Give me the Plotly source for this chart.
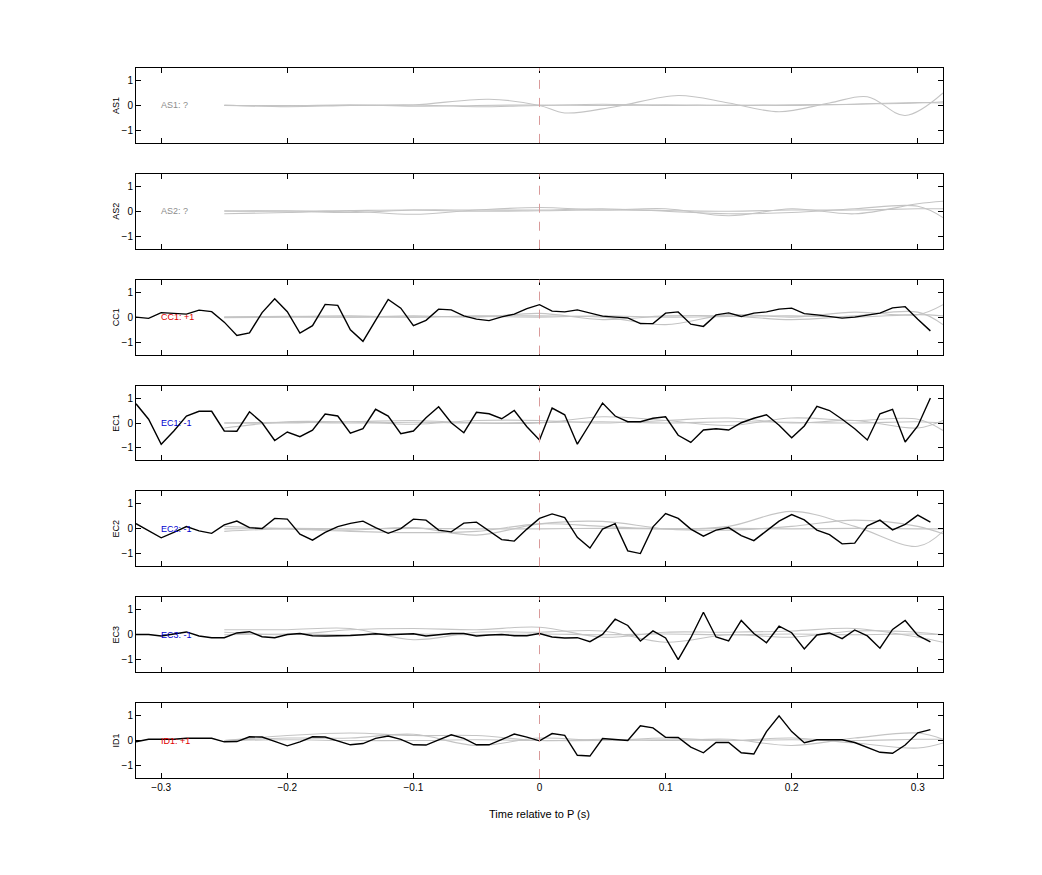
import numpy as np
import plotly.graph_objs as go
from plotly.subplots import make_subplots

# Time axis of the sampled (black) traces, 10 ms steps
time = [round(-0.32 + 0.01 * k, 2) for k in range(64)]

cc1 = [0, -0.05, 0.18, 0.15, 0.12, 0.28, 0.22, -0.2, -0.73, -0.63, 0.18, 0.74, 0.22, -0.64, -0.34, 0.51,
       0.47, -0.51, -0.97, -0.13, 0.71, 0.36, -0.34, -0.13, 0.32, 0.29, 0.05, -0.08, -0.14, 0.01, 0.12, 0.34,
       0.5, 0.24, 0.21, 0.29, 0.18, 0.04, 0, -0.03, -0.26, -0.26, 0.16, 0.21, -0.28, -0.37, 0.09, 0.17,
       0.03, 0.16, 0.21, 0.32, 0.36, 0.14, 0.09, 0.03, -0.04, 0, 0.08, 0.16, 0.37, 0.42, -0.08, -0.55]
ec1 = [0.77, 0.15, -0.85, -0.32, 0.28, 0.47, 0.47, -0.32, -0.33, 0.45, 0.01, -0.7, -0.36, -0.55, -0.29, 0.36,
       0.28, -0.41, -0.23, 0.55, 0.28, -0.43, -0.32, 0.21, 0.65, 0.01, -0.39, 0.43, 0.37, 0.17, 0.5, -0.15,
       -0.68, 0.6, 0.33, -0.85, -0.03, 0.8, 0.28, 0.05, 0.05, 0.19, 0.25, -0.49, -0.78, -0.28, -0.23, -0.28,
       0.01, 0.19, 0.33, -0.09, -0.59, -0.12, 0.67, 0.5, 0.15, -0.23, -0.68, 0.37, 0.55, -0.76, -0.12, 1.0]
ec2 = [0.21, -0.08, -0.36, -0.14, 0.09, -0.08, -0.18, 0.16, 0.31, 0.05, 0.01, 0.42, 0.39, -0.21, -0.45, -0.14,
       0.09, 0.22, 0.31, 0.05, -0.18, 0.01, 0.39, 0.35, -0.05, -0.12, 0.23, 0.27, -0.08, -0.43, -0.49, -0.01,
       0.42, 0.6, 0.45, -0.34, -0.77, -0.01, 0.21, -0.88, -0.99, 0.08, 0.61, 0.42, -0.01, -0.29, -0.05, 0.05,
       -0.27, -0.47, -0.08, 0.31, 0.57, 0.36, -0.05, -0.23, -0.6, -0.57, 0.12, 0.35, -0.04, 0.18, 0.55, 0.27]
ec3 = [0.01, 0.01, -0.05, 0.04, 0.11, -0.05, -0.12, -0.12, 0.07, 0.12, -0.08, -0.12, 0.01, 0.05, -0.04, -0.05,
       -0.05, -0.03, 0, 0.04, 0, 0.01, 0.04, -0.05, 0, 0.05, 0.05, -0.05, -0.01, 0.01, -0.04, -0.04,
       0.05, -0.09, -0.13, -0.12, -0.28, 0.01, 0.62, 0.37, -0.25, 0.15, -0.13, -1.0, -0.12, 0.9, -0.09, -0.25,
       0.57, 0.05, -0.32, 0.34, 0.08, -0.57, -0.01, 0.07, -0.16, 0.19, -0.05, -0.54, 0.21, 0.57, -0.03, -0.29]
id1 = [-0.05, 0.05, 0.05, 0.05, 0.09, 0.09, 0.09, -0.05, -0.04, 0.15, 0.14, -0.03, -0.21, -0.05, 0.15, 0.14,
       -0.01, -0.17, -0.12, 0.09, 0.18, 0.05, -0.17, -0.18, 0.03, 0.23, 0.09, -0.17, -0.17, 0.05, 0.26, 0.14,
       -0.01, 0.28, 0.21, -0.59, -0.62, 0.08, 0.03, 0, 0.59, 0.51, 0.13, 0.12, -0.26, -0.49, -0.08, -0.08,
       -0.49, -0.54, 0.36, 0.99, 0.36, -0.09, 0.03, 0.04, 0.03, -0.08, -0.27, -0.47, -0.51, -0.18, 0.31, 0.44]

# Grey (smoothed) traces, read at coarse knots
grey_x = [-0.25, -0.2, -0.15, -0.1, -0.05, 0, 0.05, 0.1, 0.15, 0.2, 0.25, 0.3, 0.32]
as1_x = [-0.25, -0.2, -0.15, -0.1, -0.04, 0, 0.02, 0.06, 0.11, 0.15, 0.19, 0.23, 0.26, 0.29, 0.32]
as1_a = [0, 0, 0, 0.02, 0.25, 0, -0.3, -0.05, 0.4, 0.1, -0.25, 0.1, 0.35, -0.4, 0.5]
grey = {
    'AS1': [[0.02, -0.05, 0.0, 0.02, -0.05, 0, 0.05, 0, 0.02, 0, 0.05, 0.1, 0.15],
            [0, -0.02, 0.03, -0.03, 0, 0.02, 0, 0.03, 0, 0.03, 0.05, 0.12, 0.1]],
    'AS2': [[-0.1, -0.05, 0.0, -0.12, 0.05, 0.15, 0.05, 0.1, -0.18, 0.1, -0.1, 0.3, 0.4],
            [0, 0.02, -0.05, 0.05, 0.05, 0.05, 0.1, 0, -0.1, -0.05, 0.1, 0.2, -0.25],
            [0.02, 0, 0.03, 0.05, 0, 0.02, 0.05, 0.03, 0, 0.05, 0.05, 0.1, 0.1]],
    'CC1': [[0, 0.02, 0.05, 0.0, 0.05, 0.05, 0, -0.3, 0.1, 0, 0.2, 0.1, 0.5],
            [-0.02, 0, 0, 0.05, 0, 0.15, -0.1, 0.05, 0.05, -0.1, 0.05, 0.2, -0.3],
            [0, 0.03, 0, 0, 0.03, 0, 0.05, 0, 0.03, 0.05, 0, 0.1, 0.05]],
    'EC1': [[-0.2, 0.05, 0.05, 0.1, 0, 0, 0.25, 0.1, -0.1, 0.2, 0.1, 0.15, -0.3],
            [0, 0, 0.05, -0.05, 0.1, 0.1, 0, 0.1, 0.2, 0, 0.1, -0.2, 0.1],
            [0, 0.03, 0, 0.03, 0, 0.02, 0.05, 0, 0.05, 0.03, 0, 0.05, 0]],
    'EC2': [[0.1, 0, -0.1, -0.15, -0.1, 0.2, 0.1, 0, 0.1, 0.7, 0.1, -0.7, -0.1],
            [-0.1, 0, -0.05, 0.05, -0.25, 0.2, 0.3, 0, -0.05, 0.1, 0.35, 0.1, -0.2],
            [0, 0.02, 0, 0.02, 0, 0, 0.02, 0, 0.02, 0, 0.02, 0, 0]],
    'EC3': [[0.2, 0.2, 0.25, -0.2, 0.1, 0.1, 0.15, -0.3, 0, -0.1, 0.15, 0.1, 0],
            [0.1, 0, 0.2, 0.25, 0.2, 0.3, -0.1, 0.1, 0.1, 0.15, 0.25, -0.1, -0.3],
            [0, 0.03, 0, 0.03, 0, 0.03, 0, 0.03, 0, 0.03, 0, 0.03, 0]],
    'ID1': [[0, 0.2, 0.3, 0.2, 0.2, 0.0, 0.05, 0, 0.05, -0.2, 0.1, 0.3, 0.05],
            [0, 0.1, 0.1, 0.25, -0.2, 0.1, 0, 0.1, 0, 0.1, -0.1, -0.3, -0.1],
            [0, 0.03, 0, 0, 0.03, 0, 0, 0.03, 0, 0.03, 0, 0.05, 0.05]],
}

channels = ['AS1', 'AS2', 'CC1', 'EC1', 'EC2', 'EC3', 'ID1']
black = {'CC1': cc1, 'EC1': ec1, 'EC2': ec2, 'EC3': ec3, 'ID1': id1}
labels = ['AS1: ?', 'AS2: ?', 'CC1: +1', 'EC1: -1', 'EC2: -1', 'EC3: -1', 'ID1: +1']
label_colors = ['#8c8c8c', '#8c8c8c', '#e00000', '#0000d0', '#0000d0', '#0000d0', '#e00000']

fig = make_subplots(rows=7, cols=1, vertical_spacing=0.0436, shared_xaxes=False)

for i, ch in enumerate(channels):
    row = i + 1
    if ch == 'AS1':
        fig.add_trace(go.Scatter(x=as1_x, y=as1_a, mode='lines', line_shape='spline',
                                 line=dict(color='#c4c4c4', width=1.1)), row=row, col=1)
    for g in grey[ch]:
        fig.add_trace(go.Scatter(x=grey_x, y=g, mode='lines', line_shape='spline',
                                 line=dict(color='#c4c4c4', width=1.1)), row=row, col=1)
    if ch in black:
        fig.add_trace(go.Scatter(x=time, y=black[ch], mode='lines',
                                 line=dict(color='black', width=1.4)), row=row, col=1)
    fig.add_vline(x=0, line=dict(color='#d99a9a', width=1, dash='dash'), row=row, col=1)
    fig.add_annotation(x=-0.302, y=0, text=labels[i], showarrow=False, xanchor='left',
                       font=dict(size=9, color=label_colors[i]), row=row, col=1)
    fig.update_yaxes(range=[-1.5, 1.5], tickvals=[-1, 0, 1], title_text=ch,
                     title_font=dict(size=9), title_standoff=0, row=row, col=1)
    fig.update_xaxes(range=[-0.32, 0.32], tickvals=[-0.3, -0.2, -0.1, 0, 0.1, 0.2, 0.3],
                     showticklabels=(row == 7), row=row, col=1)

fig.update_xaxes(ticks='inside', ticklen=5, tickcolor='black', showline=True, linecolor='black',
                 linewidth=1, mirror='ticks', showgrid=False, zeroline=False, automargin=False,
                 tickfont=dict(size=10))
fig.update_yaxes(ticks='inside', ticklen=5, tickcolor='black', showline=True, linecolor='black',
                 linewidth=1, mirror='ticks', showgrid=False, zeroline=False, automargin=False,
                 tickfont=dict(size=10))
fig.update_xaxes(title_text='Time relative to P (s)', title_font=dict(size=11),
                 title_standoff=18, row=7, col=1)

fig.update_layout(width=1042, height=875, showlegend=False,
                  margin=dict(l=128, r=107, t=60, b=105),
                  plot_bgcolor='white', paper_bgcolor='white',
                  font=dict(family='Liberation Sans, Arial', color='black'))

fig.write_html('out.html')
